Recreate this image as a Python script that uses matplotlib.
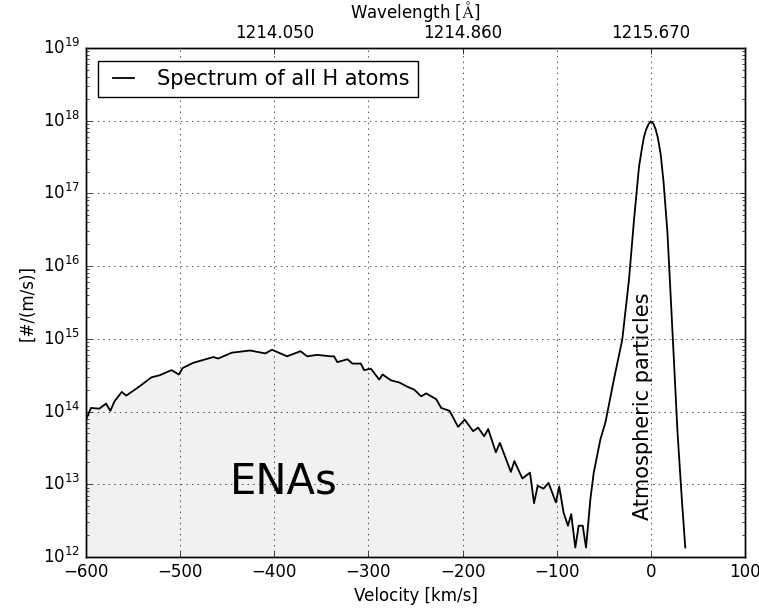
import numpy as np
import matplotlib.pyplot as plt

# ENA part of the spectrum (velocity km/s, log10 of #/(m/s))
ena_v = [-600, -594.7, -585.8, -578.7, -574.1, -569.8, -562.0, -557.3, -544.9, -530.6,
         -521.7, -509.2, -501.4, -497.2, -486.2, -464.8, -459.5, -445.2, -425.6, -409.6,
         -402.4, -386.4, -372.2, -365.1, -354.4, -340.2, -336.6, -333.0, -322.3, -317.0,
         -308.1, -304.6, -297.4, -288.6, -285.0, -276.1, -267.2, -258.3, -251.2, -244.0,
         -238.7, -228.0, -222.7, -213.8, -204.8, -197.8, -188.8, -183.5, -177.1, -172.8,
         -164.7, -160.4, -148.7, -145.0, -136.5, -128.4, -124.1, -120.2, -114.1, -108.7,
         -100.9, -97.4, -92.7, -88.1, -84.6, -80.3, -76.7, -72.4, -68.9]
ena_log = [13.89, 14.05, 14.04, 14.11, 14.01, 14.14, 14.27, 14.22, 14.33, 14.47,
           14.50, 14.57, 14.51, 14.60, 14.67, 14.75, 14.73, 14.81, 14.84, 14.80,
           14.85, 14.76, 14.83, 14.76, 14.78, 14.76, 14.76, 14.68, 14.72, 14.66,
           14.66, 14.57, 14.59, 14.44, 14.51, 14.43, 14.40, 14.34, 14.30, 14.21,
           14.25, 14.17, 14.05, 14.01, 13.79, 13.89, 13.73, 13.78, 13.66, 13.76,
           13.44, 13.57, 13.17, 13.32, 13.08, 13.16, 12.74, 12.98, 12.94, 13.02,
           12.75, 12.97, 12.61, 12.43, 12.59, 12.13, 12.43, 12.43, 12.13]

# atmospheric peak
atm_v = [-64.3, -60.7, -53.6, -48.3, -39.3, -30.4, -23.3, -17.9, -12.6, -9.5, -7.3,
         -5.0, -3.0, -1.5, 0.0, 1.5, 3.0, 5.1, 7.5, 10.5, 13.5, 17.6, 23.0, 28.3, 32.9, 36.5]
atm_log = [12.79, 13.16, 13.62, 13.85, 14.44, 14.99, 15.81, 16.64, 17.37, 17.62, 17.78,
           17.88, 17.94, 17.97, 17.99, 17.98, 17.95, 17.88, 17.76, 17.53, 17.15, 16.46,
           15.08, 13.71, 12.79, 12.13]

top_ticks = [-400, -200, 0]
top_labels = ['1214.050', '1214.860', '1215.670']

plt.style.use('classic')
plt.rcParams['font.family'] = ['DejaVu Sans']

v = np.array(ena_v + atm_v)
y = 10 ** np.array(ena_log + atm_log)

fig = plt.figure(figsize=(7.59, 6.08), dpi=100, facecolor='white')
ax = fig.add_axes([0.1133, 0.0839, 0.8683, 0.8371])

# shade the ENA part only
fill_v = np.array(ena_v + [-64.3])
fill_y = 10 ** np.array(ena_log + [12.79])
ax.fill_between(fill_v, 1e12, fill_y, color='#f2f0f1', lw=0)
ax.plot(v, y, color='black', lw=1.3, label='Spectrum of all H atoms')

ax.set_yscale('log')
ax.set_xlim(-600, 100)
ax.set_ylim(1e12, 1e19)
ax.set_xlabel('Velocity [km/s]')
ax.set_ylabel('[#/(m/s)]')
ax.grid(True)

ax.text(-390, 1.1e13, 'ENAs', fontsize=30, ha='center', va='center')
ax.text(-8, 1.2e14, 'Atmospheric particles', fontsize=15, rotation=90,
        ha='center', va='center')

ax.legend(loc='upper left', fontsize=15, handlelength=1.6,
          borderaxespad=0.6)

ax2 = ax.twiny()
ax2.set_xlim(ax.get_xlim())
ax2.set_xticks(top_ticks)
ax2.set_xticklabels(top_labels)
ax2.set_xlabel(r'Wavelength [$\mathrm{\AA}$]')

fig.savefig('out.png', dpi=100, facecolor='white')
